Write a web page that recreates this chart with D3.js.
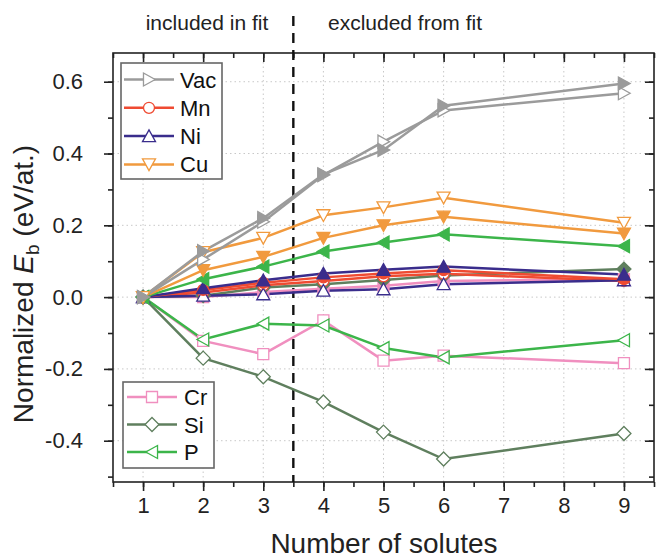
<!DOCTYPE html>
<html><head><meta charset="utf-8">
<script src="https://cdn.jsdelivr.net/npm/d3@7/dist/d3.min.js"></script>
<style>body{margin:0;background:#fff}svg{display:block;font-family:"Liberation Sans",Arial,sans-serif}</style>
</head><body>
<svg id="c" width="657" height="560"></svg>
<script>
const solutes = [1, 2, 3, 4, 5, 6, 9];
const vacOpen   = [0, 0.105, 0.21, 0.34, 0.433, 0.52, 0.568];
const vacFilled = [0, 0.128, 0.22, 0.342, 0.41, 0.533, 0.595];
const mnOpen    = [0, 0.013, 0.033, 0.045, 0.058, 0.065, 0.045];
const mnFilled  = [0, 0.02, 0.04, 0.055, 0.066, 0.075, 0.05];
const niOpen    = [0, 0.004, 0.008, 0.018, 0.022, 0.036, 0.047];
const niFilled  = [0, 0.025, 0.047, 0.066, 0.076, 0.085, 0.063];
const cuOpen    = [0, 0.125, 0.165, 0.228, 0.25, 0.277, 0.207];
const cuFilled  = [0, 0.075, 0.112, 0.165, 0.2, 0.224, 0.177];
const crOpen    = [0, -0.122, -0.159, -0.065, -0.177, -0.163, -0.184];
const crFilled  = [0, 0.0, 0.014, 0.023, 0.032, 0.045, 0.05];
const siOpen    = [0, -0.170, -0.222, -0.292, -0.376, -0.451, -0.38];
const siFilled  = [0, 0.004, 0.027, 0.036, 0.048, 0.06, 0.078];
const pOpen     = [0, -0.118, -0.074, -0.079, -0.142, -0.168, -0.120];
const pFilled   = [0, 0.05, 0.085, 0.127, 0.152, 0.175, 0.142];
const xTicks = [1, 2, 3, 4, 5, 6, 7, 8, 9];
const yTicks = [-0.4, -0.2, 0.0, 0.2, 0.4, 0.6];
const legend1 = ["Vac", "Mn", "Ni", "Cu"];
const legend2 = ["Cr", "Si", "P"];

const colors = {Vac:"#9b9b9b", Mn:"#ef4b32", Ni:"#3a2d8c", Cu:"#f19a3e", Cr:"#f08fbf", Si:"#5f7f5e", P:"#3cb54a"};
const shapes = {Vac:"tr", Mn:"circle", Ni:"tu", Cu:"td", Cr:"square", Si:"diamond", P:"tl"};

const series = [
  {el:"Cr", v:crFilled, open:false}, {el:"Si", v:siFilled, open:false},
  {el:"Mn", v:mnOpen, open:true}, {el:"Ni", v:niOpen, open:true},
  {el:"Mn", v:mnFilled, open:false}, {el:"Ni", v:niFilled, open:false},
  {el:"Cr", v:crOpen, open:true}, {el:"Si", v:siOpen, open:true}, {el:"P", v:pOpen, open:true},
  {el:"P", v:pFilled, open:false},
  {el:"Cu", v:cuFilled, open:false}, {el:"Cu", v:cuOpen, open:true},
  {el:"Vac", v:vacOpen, open:true}, {el:"Vac", v:vacFilled, open:false}
];

const L = 113, R = 654, T = 53, B = 482;
const x = d3.scaleLinear().domain([0.5, 9.5]).range([L, R]);
const y = d3.scaleLinear().domain([-0.515, 0.68]).range([B, T]);
const svg = d3.select("#c");

function shapePath(s) {
  const a = 6.5;
  switch (s) {
    case "tr": return `M${-a*0.85},${-a}L${a*0.95},0L${-a*0.85},${a}Z`;
    case "tl": return `M${a*0.85},${-a}L${-a*0.95},0L${a*0.85},${a}Z`;
    case "tu": return `M${-a},${a*0.85}L0,${-a*0.95}L${a},${a*0.85}Z`;
    case "td": return `M${-a},${-a*0.85}L0,${a*0.95}L${a},${-a*0.85}Z`;
    case "square": return `M-5.5,-5.5H5.5V5.5H-5.5Z`;
    case "diamond": return `M0,-7L7,0L0,7L-7,0Z`;
    case "circle": return d3.symbol(d3.symbolCircle, Math.PI*5.5*5.5)();
  }
}

// grid
const gridG = svg.append("g");
gridG.selectAll(".gx").data(xTicks).join("line")
  .attr("x1", d => x(d)).attr("x2", d => x(d)).attr("y1", T).attr("y2", B)
  .attr("stroke", "#c8c8c8").attr("stroke-width", 1).attr("stroke-dasharray", "1.5,3");
gridG.selectAll(".gy").data(yTicks).join("line")
  .attr("x1", L).attr("x2", R).attr("y1", d => y(d)).attr("y2", d => y(d))
  .attr("stroke", "#c8c8c8").attr("stroke-width", 1).attr("stroke-dasharray", "1.5,3");

// axes
const xMinor = d3.range(0.5, 9.51, 0.5);
const yMinor = d3.range(-0.5, 0.651, 0.1).map(v => Math.round(v*10)/10);
const axBottom = svg.append("g").attr("transform", `translate(0,${B})`)
  .call(d3.axisBottom(x).tickValues(xMinor).tickSize(5).tickFormat(""));
const axBottomMaj = svg.append("g").attr("transform", `translate(0,${B})`)
  .call(d3.axisBottom(x).tickValues(xTicks).tickSize(9).tickPadding(6).tickFormat(d3.format("d")));
const axTop = svg.append("g").attr("transform", `translate(0,${T})`)
  .call(d3.axisBottom(x).tickValues(xMinor).tickSize(5).tickFormat(""));
const axTopMaj = svg.append("g").attr("transform", `translate(0,${T})`)
  .call(d3.axisBottom(x).tickValues(xTicks).tickSize(9).tickFormat(""));
const axLeft = svg.append("g").attr("transform", `translate(${L},0)`)
  .call(d3.axisLeft(y).tickValues(yMinor).tickSize(5).tickFormat(""));
const axLeftMaj = svg.append("g").attr("transform", `translate(${L},0)`)
  .call(d3.axisLeft(y).tickValues(yTicks).tickSize(9).tickPadding(21).tickFormat(d3.format(".1f")));
const axRight = svg.append("g").attr("transform", `translate(${R},0)`)
  .call(d3.axisLeft(y).tickValues(yMinor).tickSize(5).tickFormat(""));
const axRightMaj = svg.append("g").attr("transform", `translate(${R},0)`)
  .call(d3.axisLeft(y).tickValues(yTicks).tickSize(9).tickFormat(""));
[axBottom, axBottomMaj, axTop, axTopMaj, axLeft, axLeftMaj, axRight, axRightMaj].forEach(a => {
  a.select(".domain").remove();
  a.selectAll("line").attr("stroke", "#222").attr("stroke-width", 1.6);
  a.selectAll("text").attr("font-size", 22).attr("fill", "#222").attr("font-family", "Liberation Sans, Arial, sans-serif");
});
axLeftMaj.selectAll("text").text(d => d3.format(".1f")(d).replace("−", "-"));
svg.append("rect").attr("x", L).attr("y", T).attr("width", R - L).attr("height", B - T)
  .attr("fill", "none").attr("stroke", "#222").attr("stroke-width", 1.6);

// dashed divider
svg.append("line").attr("x1", x(3.5)).attr("x2", x(3.5)).attr("y1", 16).attr("y2", B)
  .attr("stroke", "#111").attr("stroke-width", 2.4).attr("stroke-dasharray", "10,7");

// series
const line = d3.line().x((d, i) => x(solutes[i])).y(d => y(d));
const sg = svg.append("g");
series.forEach(s => {
  sg.append("path").attr("d", line(s.v)).attr("fill", "none")
    .attr("stroke", colors[s.el]).attr("stroke-width", 2.5);
});
series.forEach(s => {
  sg.selectAll(null).data(s.v).join("path")
    .attr("transform", (d, i) => `translate(${x(solutes[i])},${y(d)})`)
    .attr("d", shapePath(shapes[s.el]))
    .attr("fill", s.open ? "#fff" : colors[s.el])
    .attr("stroke", colors[s.el]).attr("stroke-width", 1.3);
});

// legends
function drawLegend(items, bx, by, bw, bh, y0, dy, lx0, lx1, tx) {
  const lg = svg.append("g");
  lg.append("rect").attr("x", bx).attr("y", by).attr("width", bw).attr("height", bh)
    .attr("fill", "#fff").attr("stroke", "#666").attr("stroke-width", 1.6);
  items.forEach((el, i) => {
    const yy = y0 + i * dy;
    lg.append("line").attr("x1", lx0).attr("x2", lx1).attr("y1", yy).attr("y2", yy)
      .attr("stroke", colors[el]).attr("stroke-width", 2.5);
    lg.append("path").attr("transform", `translate(${(lx0 + lx1) / 2},${yy})`)
      .attr("d", shapePath(shapes[el])).attr("fill", "#fff")
      .attr("stroke", colors[el]).attr("stroke-width", 1.3);
    lg.append("text").attr("x", tx).attr("y", yy + 8).attr("font-size", 22).attr("fill", "#111").text(el);
  });
}
drawLegend(legend1, 121, 63, 101, 116, 79.5, 28.3, 124, 174, 180);
drawLegend(legend2, 123, 382, 91, 86, 397, 27.5, 127, 177, 184);

// titles
svg.append("text").attr("x", 207).attr("y", 30).attr("text-anchor", "middle")
  .attr("font-size", 21).attr("fill", "#222").text("included in fit");
svg.append("text").attr("x", 405).attr("y", 30).attr("text-anchor", "middle")
  .attr("font-size", 21).attr("fill", "#222").text("excluded from fit");
svg.append("text").attr("x", 384).attr("y", 553).attr("text-anchor", "middle")
  .attr("font-size", 28).attr("fill", "#222").text("Number of solutes");
const yt = svg.append("text").attr("transform", "translate(33,284) rotate(-90)")
  .attr("text-anchor", "middle").attr("font-size", 28).attr("fill", "#222");
yt.append("tspan").text("Normalized ");
yt.append("tspan").attr("font-style", "italic").text("E");
yt.append("tspan").attr("font-size", 19).attr("dy", 6).text("b");
yt.append("tspan").attr("dy", -6).text(" (eV/at.)");
</script>
</body></html>
